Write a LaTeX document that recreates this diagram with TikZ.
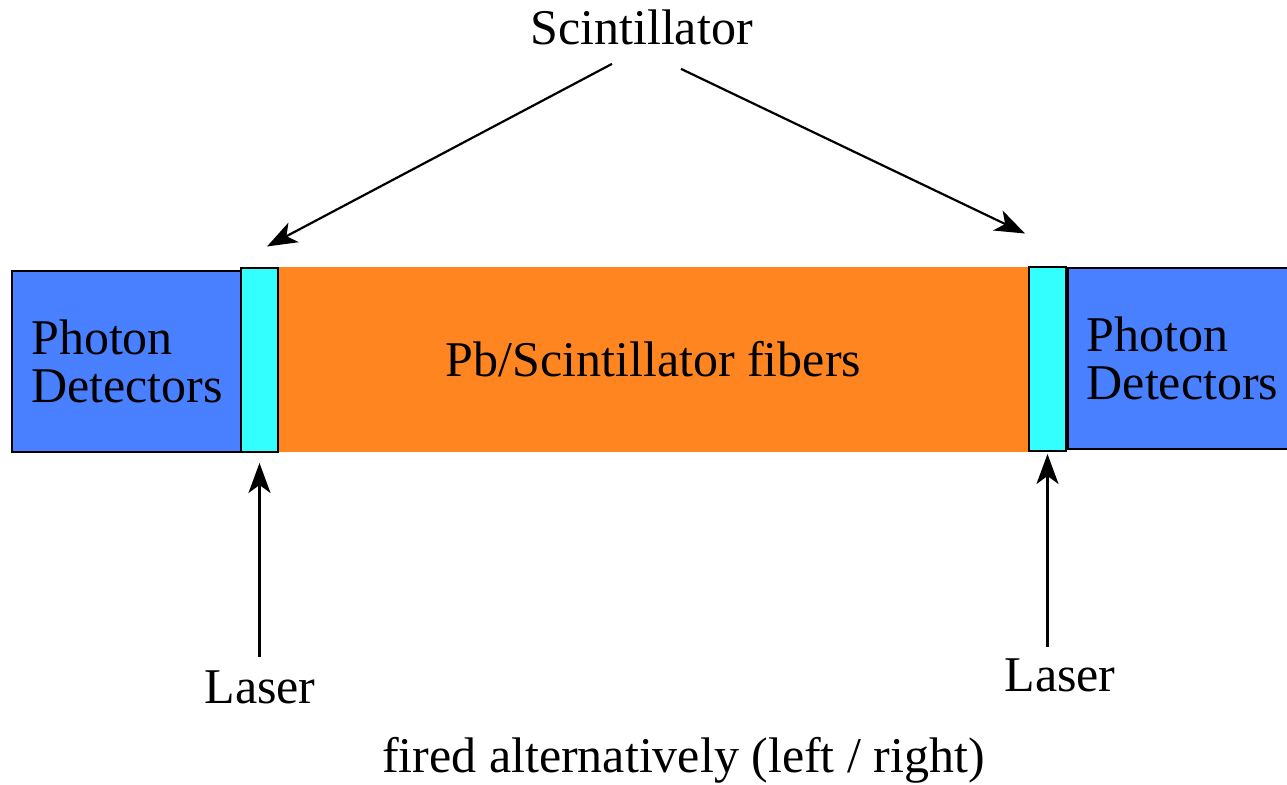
\documentclass[tikz,border=0pt]{standalone}
\usepackage{fontspec}
\setmainfont{Liberation Serif}
\usetikzlibrary{arrows.meta, positioning}
\definecolor{detblue}{RGB}{72,128,255}
\definecolor{scintcyan}{RGB}{51,255,255}
\definecolor{fibreorange}{RGB}{255,133,32}
\tikzset{
  detector/.style={rectangle, draw=black, fill=detblue, line width=1pt, inner sep=0pt, minimum width=115pt, minimum height=90.5pt, align=left, font=\fontsize{25}{24}\selectfont},
  strip/.style={rectangle, draw=black, fill=scintcyan, line width=1pt, inner sep=0pt, minimum width=18.5pt, minimum height=92pt},
  fibres/.style={rectangle, fill=fibreorange, inner sep=0pt, minimum width=375.5pt, minimum height=92.5pt, font=\fontsize{25}{24}\selectfont},
  label/.style={inner sep=0pt, anchor=base, font=\fontsize{25}{24}\selectfont},
  arrow/.style={-{Stealth[length=15pt, width=11pt, inset=4pt]}, line width=1.1pt},
}
\begin{document}
\begin{tikzpicture}[x=0.5pt, y=-0.5pt]
\useasboundingbox (0,0) rectangle (1287,785);
% calorimeter module
\node (ldet) [detector] at (127,361.5) {Photon\\Detectors};
\node (fib) [fibres] at (653.5,359.5) {Pb/Scintillator fibers};
\node (lstrip) [strip] at (259.5,360) {};
\node (rstrip) [strip] at (1047.5,359) {};
\node (rdet) [detector, anchor=west] at (1066.5,358.5) {Photon\\Detectors};
% labels
\node (scint) [label] at (641.5,45) {Scintillator};
\node (llaser) [label] at (260,704) {Laser};
\node (rlaser) [label] at (1060,692) {Laser};
\node (fired) [label] at (683.5,773) {fired alternatively (left / right)};
% arrows
\draw[arrow] ([xshift=-14.75pt, yshift=-9pt]scint.south) -- ([xshift=3.75pt, yshift=10.25pt]lstrip.north);
\draw[arrow] ([xshift=19.75pt, yshift=-11.5pt]scint.south) -- ([xshift=-11.25pt, yshift=16.25pt]rstrip.north);
\draw[arrow, shorten <=7pt] (lstrip.south |- llaser.north) -- ([yshift=-5pt]lstrip.south);
\draw[arrow, shorten <=5.8pt] (rstrip.south |- rlaser.north) -- ([yshift=-1pt]rstrip.south);
\end{tikzpicture}
\end{document}
